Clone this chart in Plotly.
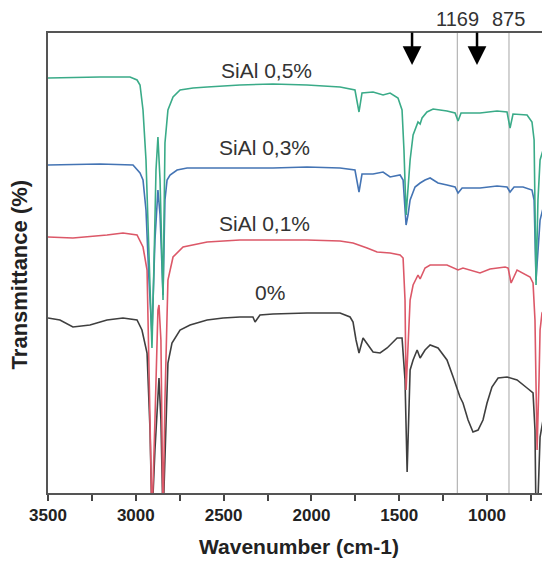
import plotly.graph_objects as go

# Wavenumber (cm-1) / transmittance (arbitrary offset units)
wn_05 = [3500, 3318, 3204, 3033, 2993, 2976, 2959, 2942, 2925, 2908, 2896, 2885, 2874, 2862, 2845, 2834,
         2817, 2788, 2748, 2674, 2594, 2407, 2219, 2025, 1837, 1752, 1729, 1712, 1649, 1592, 1552, 1507,
         1484, 1473, 1461, 1450, 1438, 1421, 1393, 1381, 1370, 1342, 1307, 1228, 1182, 1165, 1148, 1040,
         943, 886, 869, 852, 772, 744, 732, 721, 710, 698, 681, 658, 641]
t_05 = [415, 416, 416, 416, 413, 408, 383, 333, 233, 145, 233, 323, 356, 313, 193, 350,
        383, 396, 403, 405, 406, 408, 409, 408, 406, 403, 381, 400, 401, 398, 400, 395,
        383, 343, 278, 303, 333, 358, 371, 369, 375, 381, 384, 382, 380, 372, 380, 380,
        382, 381, 365, 379, 378, 371, 353, 208, 293, 333, 343, 343, 340]

wn_03 = [3500, 3204, 3016, 2976, 2959, 2942, 2925, 2908, 2891, 2874, 2862, 2845, 2834, 2822, 2805, 2765,
         2708, 2594, 2407, 2219, 2025, 1837, 1752, 1729, 1712, 1649, 1592, 1552, 1495, 1478, 1461, 1450,
         1438, 1410, 1381, 1353, 1324, 1279, 1228, 1182, 1165, 1142, 1040, 943, 886, 869, 846, 795,
         744, 732, 721, 710, 698, 681, 641]
t_03 = [328, 329, 328, 320, 313, 283, 213, 158, 253, 303, 278, 198, 293, 313, 318, 323,
        325, 325, 325, 325, 326, 325, 323, 301, 319, 319, 321, 316, 318, 313, 268, 278,
        293, 306, 310, 313, 315, 310, 308, 306, 300, 305, 305, 307, 306, 301, 306, 306,
        303, 293, 213, 243, 273, 285, 280]

wn_01 = [3500, 3358, 3164, 3073, 2993, 2959, 2936, 2919, 2908, 2891, 2874, 2868, 2857, 2845, 2834, 2817,
         2788, 2731, 2594, 2407, 2025, 1837, 1763, 1683, 1626, 1552, 1495, 1478, 1467, 1461, 1450, 1438,
         1421, 1393, 1381, 1353, 1324, 1228, 1165, 1137, 1040, 983, 897, 880, 863, 829, 755, 738,
         727, 715, 704, 698, 687, 670, 641]
t_01 = [256, 255, 258, 260, 258, 246, 223, 93, -27, 73, 183, 188, 153, -27, 93, 213,
        236, 246, 251, 253, 253, 252, 250, 245, 241, 240, 238, 235, 193, 103, 143, 193,
        208, 218, 214, 225, 228, 228, 223, 225, 220, 224, 226, 225, 210, 223, 216, 210,
        173, 43, 113, 163, 180, 185, 186]

wn_00 = [3500, 3432, 3358, 3261, 3164, 3073, 2993, 2965, 2936, 2919, 2908, 2891, 2868, 2857, 2845, 2828,
         2817, 2794, 2748, 2691, 2594, 2503, 2407, 2333, 2321, 2293, 2219, 2025, 1837, 1780, 1763, 1746,
         1729, 1706, 1678, 1649, 1609, 1569, 1512, 1484, 1467, 1455, 1438, 1421, 1398, 1381, 1353, 1324,
         1279, 1228, 1193, 1154, 1137, 1108, 1080, 1051, 1023, 1000, 972, 937, 886, 829, 772, 738,
         727, 721, 710, 698, 681, 664, 641]
t_00 = [175, 173, 166, 168, 173, 175, 173, 163, 140, 63, -27, 43, 115, 73, -27, 73,
        130, 150, 163, 168, 173, 175, 176, 176, 171, 178, 179, 180, 180, 176, 171, 153,
        140, 155, 148, 141, 140, 145, 155, 155, 113, 21, 123, 133, 143, 135, 143, 148,
        145, 133, 116, 96, 90, 73, 61, 63, 73, 90, 106, 115, 116, 113, 105, 100,
        63, -27, -7, 56, 73, 76, 70]

series_names = ["0%", "SiAl 0,1%", "SiAl 0,3%", "SiAl 0,5%"]
series_colors = ["#3f3f3f", "#dc5868", "#4474b4", "#3aab88"]
label_pos_wn = [2236, 2270, 2270, 2258]
label_pos_t = [201, 270, 346, 423]

marker_wn = [1169, 875]
arrow_wn = [1427, 1057]

x_ticks = [3500, 3000, 2500, 2000, 1500, 1000]

fig = go.Figure()
for wn, t, name, col in zip([wn_00, wn_01, wn_03, wn_05], [t_00, t_01, t_03, t_05],
                            series_names, series_colors):
    fig.add_trace(go.Scatter(x=wn, y=t, mode="lines", name=name,
                             line=dict(color=col, width=1.6), showlegend=False))

for m in marker_wn:
    fig.add_shape(type="line", xref="x", yref="paper", x0=m, x1=m, y0=0, y1=1,
                  line=dict(color="#b5b5b5", width=1.2), layer="below")
    fig.add_annotation(x=m, xref="x", y=1, yref="paper", yanchor="bottom", xanchor="center",
                       text=str(m), showarrow=False, yshift=1,
                       font=dict(family="Arial, Liberation Sans", size=20, color="#333333"))

for a in arrow_wn:
    fig.add_annotation(x=a, xref="x", y=428, yref="y", text="", showarrow=True,
                       arrowhead=2, arrowsize=1.5, arrowwidth=2.5, arrowcolor="#000000",
                       ax=0, ay=-34)

for name, xw, yt in zip(series_names, label_pos_wn, label_pos_t):
    fig.add_annotation(x=xw, y=yt, xref="x", yref="y", text=name, showarrow=False,
                       font=dict(family="Arial, Liberation Sans", size=21, color="#333333"))

fig.add_annotation(x=-0.058, y=0.476, xref="paper", yref="paper", text="Transmittance (%)",
                   textangle=-90, showarrow=False, xanchor="center", yanchor="middle",
                   font=dict(family="Arial, Liberation Sans", size=22, color="#222222", weight="bold"))
fig.add_annotation(x=0.508, y=-0.116, xref="paper", yref="paper", text="Wavenumber (cm-1)",
                   showarrow=False, xanchor="center", yanchor="middle",
                   font=dict(family="Arial, Liberation Sans", size=21, color="#222222", weight="bold"))

fig.update_layout(
    width=534, height=552,
    margin=dict(l=40, r=0, t=25, b=67),
    plot_bgcolor="white", paper_bgcolor="white",
    xaxis=dict(range=[3500, 687], tickvals=x_ticks, ticks="outside", ticklen=6, tickwidth=1.5,
               tickcolor="#444444", showline=True, linecolor="#555555", linewidth=1.8, mirror=True,
               showgrid=False, zeroline=False,
               tickfont=dict(family="Arial, Liberation Sans", size=17, color="#222222", weight="bold"),
               minor=dict(dtick=250, tick0=3500, ticks="outside", ticklen=6, tickcolor="#444444",
                          showgrid=False)),
    yaxis=dict(range=[0, 460], showticklabels=False, ticks="", showline=True, linecolor="#555555",
               linewidth=1.8, showgrid=False, zeroline=False),
)

fig.write_html("out.html")
